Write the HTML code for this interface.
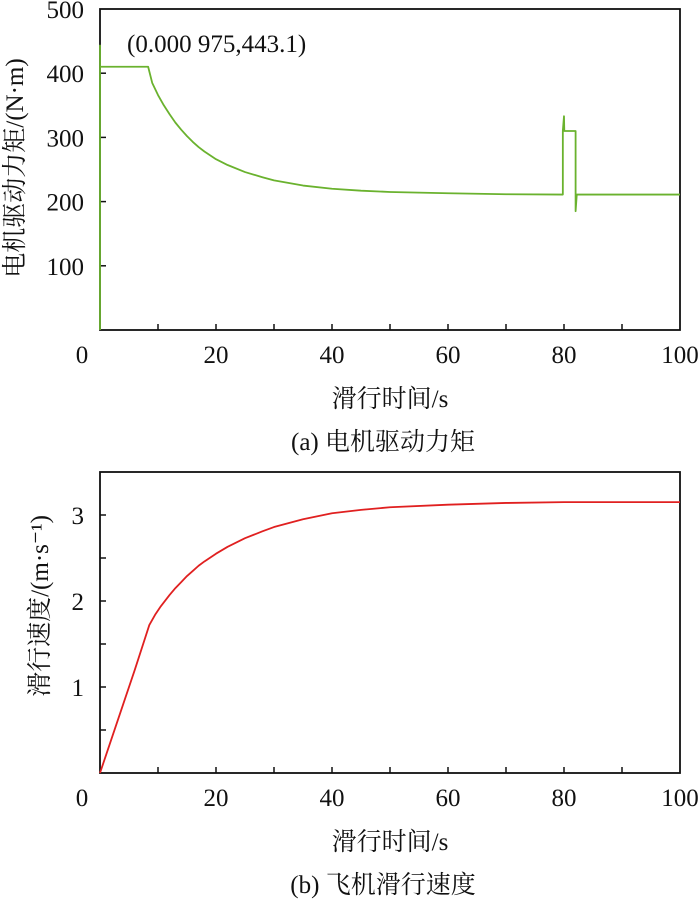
<!DOCTYPE html>
<html><head><meta charset="utf-8"><style>
body{margin:0;background:#fff;}
svg text{font-family:"Liberation Serif","Noto Serif CJK SC","Noto Sans CJK SC",serif;fill:#111;}
</style></head><body>
<svg width="700" height="903" xmlns="http://www.w3.org/2000/svg" id="root">
<g id="ga"></g>
<g id="gb"></g>
</svg>
<script>
const torqueTimes=[0,0.000975,0.01,8.3,9,10,11,12,13,14,15,16,17,18,19,20,22,25,28,30,35,40,45,50,60,70,79.8,79.8,80.0,80.05,82.0,82.0,82.2,82.3,90,100];
const torqueValues=[0,443.1,410,410,385,366,350,336,323,312,302,293,285,278,272,266,257,246,238,233,225,220,217,215,213,211.5,211,310,333,310,310,185,211,211,211,211];
const speedTimes=[0,2,4,6,8.5,9.5,10.5,12,13,14,15,16,17,18,20,22,25,28,30,35,40,45,50,60,70,80,90,100];
const speedValues=[0,0.4,0.8,1.2,1.72,1.84,1.94,2.07,2.15,2.22,2.29,2.35,2.41,2.46,2.55,2.63,2.73,2.81,2.86,2.95,3.02,3.06,3.09,3.12,3.14,3.15,3.15,3.15];
const xTicks=[0,20,40,60,80,100];
const torqueTicks=[100,200,300,400,500];
const speedTicks=[1,2,3];
const NS="http://www.w3.org/2000/svg";
function mk(p,tag,a,txt){const e=document.createElementNS(NS,tag);for(const k in a)e.setAttribute(k,a[k]);if(txt!==undefined)e.textContent=txt;p.appendChild(e);return e;}
function chart(g,o){
 const L=100,R=680,T=o.top,B=o.bot;
 const xs=t=>L+(R-L)*t/100, ys=v=>B-(B-T)*v/o.ymax;
 const r=mk(g,'rect',{x:L,y:T,width:R-L,height:B-T,fill:'none',stroke:'#111','stroke-width':1.8});
 
 for(let t=10;t<100;t+=10){const l=mk(g,'line',{x1:xs(t),x2:xs(t),y1:B,y2:B-6,stroke:'#111','stroke-width':1.5});
 }
 for(let v=o.ystep;v<o.ymax;v+=o.ystep){const l=mk(g,'line',{x1:L,x2:L+6,y1:ys(v),y2:ys(v),stroke:'#111','stroke-width':1.5});
 }
 xTicks.forEach(t=>{const e=mk(g,'text',{x:t===0?82:xs(t),y:B+33,'font-size':25,'text-anchor':'middle'},String(t));
 });
 o.yt.forEach(v=>{const e=mk(g,'text',{x:84,y:ys(v)+9,'font-size':25,'text-anchor':'end'},String(v));
 });
 let d='';o.tx.forEach((t,i)=>{d+=(i?'L':'M')+xs(t).toFixed(2)+','+ys(o.vy[i]).toFixed(2);});
 const p=mk(g,'path',{d:d,fill:'none',stroke:o.color,'stroke-width':1.8,'stroke-linejoin':'round'});
 
 const xt=mk(g,'text',{x:390,y:B+77,'font-size':25,'text-anchor':'middle'},'滑行时间/s');
 
 const yt=mk(g,'text',{x:0,y:0,'font-size':25,'text-anchor':'middle',transform:`translate(${o.ytx},${o.yc}) rotate(-90)`},o.ytitle);
 
 const c=mk(g,'text',{x:383,y:B+120,'font-size':25,'text-anchor':'middle'},o.cap);
 
}
chart(document.getElementById('ga'),{top:9,bot:330,ymax:500,ystep:100,yt:torqueTicks,tx:torqueTimes,vy:torqueValues,color:'#6ab22e',ytitle:'电机驱动力矩/(N·m)',ytx:23,yc:168,cap:'(a) 电机驱动力矩'});
chart(document.getElementById('gb'),{top:472,bot:773,ymax:3.5,ystep:0.5,yt:speedTicks,tx:speedTimes,vy:speedValues,color:'#e02020',ytitle:'滑行速度/(m·s⁻¹)',ytx:48,yc:606,cap:'(b) 飞机滑行速度'});
const an=mk(document.getElementById('ga'),'text',{x:127,y:52,'font-size':25},'(0.000 975,443.1)');


</script>
</body></html>
